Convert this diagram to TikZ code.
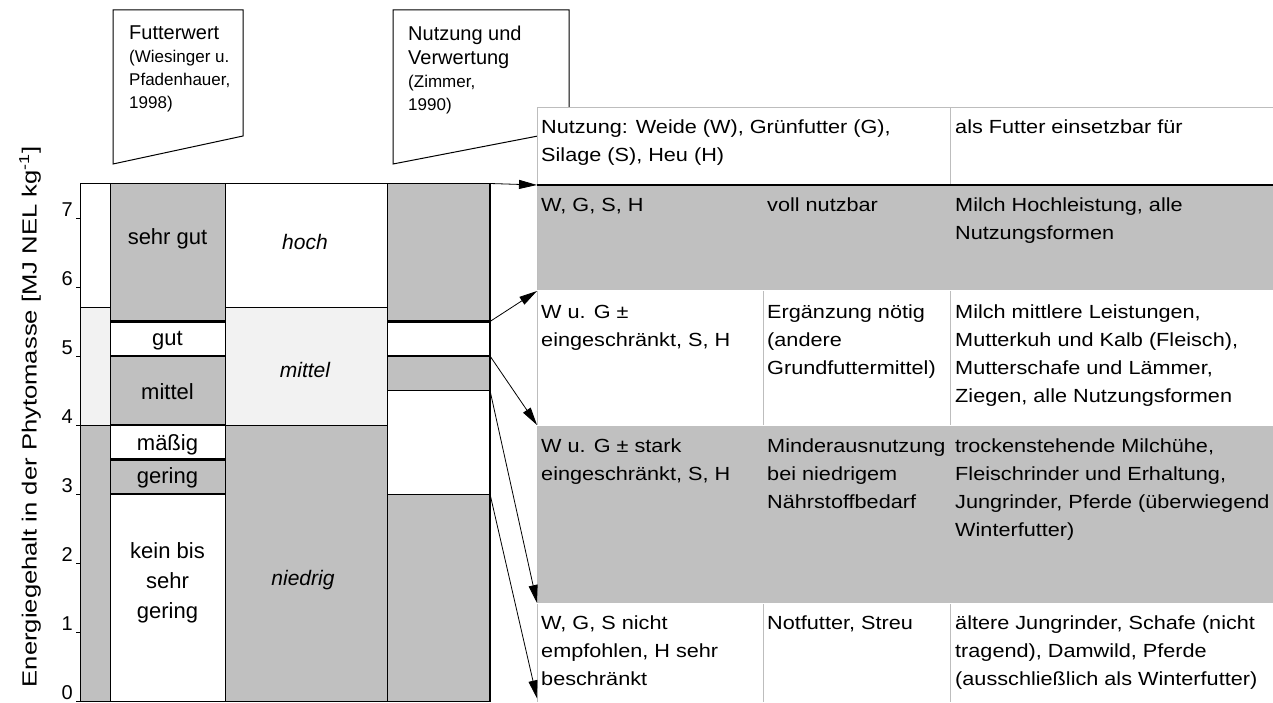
\documentclass[tikz,border=0pt]{standalone}
\usepackage{fontspec}
\setmainfont{Liberation Sans}
\newfontfamily\tabfont{Liberation Sans}[FakeStretch=1.14]
\newfontfamily\axisfont{Liberation Sans}[FakeStretch=1.25]
\usepackage{xcolor}
\usepackage{tikz}
\usetikzlibrary{positioning}
\usetikzlibrary{arrows.meta}

\definecolor{cgray}{HTML}{C0C0C0}
\definecolor{clight}{HTML}{F2F2F2}
\definecolor{cgrid}{HTML}{BDBDBD}

\begin{document}
\begin{tikzpicture}[
				x=1pt, y=1pt,
				cell/.style={draw=black, line width=1pt},
				sep/.style={line width=2.6pt},
				flabel/.style={font=\fontsize{22}{30}\selectfont, align=center, inner sep=0pt},
				klabel/.style={font=\fontsize{21}{30}\selectfont\itshape, inner sep=0pt},
				ticklabel/.style={font=\fontsize{20}{24}\selectfont, anchor=base east, inner sep=0pt},
				axislabel/.style={font=\axisfont\fontsize{20.5}{24}\selectfont, rotate=90, inner sep=0pt},
				callout/.style={draw=black, fill=white, line width=1pt},
				calltitle/.style={font=\fontsize{20}{24}\selectfont, align=left, anchor=north west, inner sep=0pt},
				callsub/.style={font=\fontsize{17}{23}\selectfont, align=left, anchor=north west, inner sep=0pt},
				rowbox/.style={rectangle, anchor=north west, inner sep=0pt, minimum width=736pt},
				celltext/.style={font=\tabfont\fontsize{19}{28}\selectfont, align=left, anchor=north west, inner sep=0pt},
				grid/.style={draw=cgrid, line width=1pt},
				arrow/.style={-{Triangle[length=18pt, width=9pt]}, line width=0.8pt}
			]

			\useasboundingbox (0,0) rectangle (1273,702);

			\draw[callout] (113,692) -- (243,692) -- (243,566) -- (113,538) -- cycle;
			\draw[callout] (393,692) -- (569,692) -- (569,572) -- (393,538) -- cycle;
			\node[calltitle] (fwert) at (129,676) {Futterwert};
			\node[callsub] (fwref) at ([yshift=-10pt]fwert.south west) {(Wiesinger u.\\Pfadenhauer,\\1998)};
			\node[calltitle] (nutz) at (408,676) {Nutzung und\\Verwertung};
			\node[callsub] (nutzref) at ([yshift=-6pt]nutz.south west) {(Zimmer,\\1990)};

			\node[axislabel] (ylab) at (30,285) {Energiegehalt in der Phytomasse [MJ NEL kg\textsuperscript{-1}]};

			\begin{scope}[shift={(0,1)}, y=69pt]
				\draw[cell, fill=white] (80,5.7) rectangle (110,7.5);
				\draw[cell, fill=clight] (80,4) rectangle (110,5.7);
				\draw[cell, fill=cgray] (80,0) rectangle (110,4);

				\draw[cell, fill=cgray] (110,5.5) rectangle (225,7.5);
				\draw[cell, fill=white] (110,5) rectangle (225,5.5);
				\draw[cell, fill=cgray] (110,4) rectangle (225,5);
				\draw[cell, fill=white] (110,3.5) rectangle (225,4);
				\draw[cell, fill=cgray] (110,3) rectangle (225,3.5);
				\draw[cell, fill=white] (110,0) rectangle (225,3);

				\draw[cell, fill=white] (225,5.7) rectangle (387,7.5);
				\draw[cell, fill=clight] (225,4) rectangle (387,5.7);
				\draw[cell, fill=cgray] (225,0) rectangle (387,4);

				\draw[cell, fill=cgray] (387,5.5) rectangle (490,7.5);
				\draw[cell, fill=white] (387,5) rectangle (490,5.5);
				\draw[cell, fill=cgray] (387,4.5) rectangle (490,5);
				\draw[cell, fill=white] (387,3) rectangle (490,4.5);
				\draw[cell, fill=cgray] (387,0) rectangle (490,3);

				\foreach \v in {3,3.5,4,5,5.5}
					\draw[sep] (110,\v) -- (225,\v);
				\foreach \v in {5,5.5}
					\draw[sep] (387,\v) -- (490,\v);
				\draw[sep] (490,0) -- (490,7.5);

				\foreach \v in {0,...,7} {
					\draw[line width=0.8pt] (76,\v) -- (80,\v);
					\node[ticklabel] (t\v) at ([yshift=1.5pt]73,\v) {\v};
				}

				\node[flabel] (sgut) at (167.5,6.7) {sehr gut};
				\node[flabel] (gut) at (167.5,5.22) {gut};
				\node[flabel] (mit) at (167.5,4.48) {mittel};
				\node[flabel] (maes) at (167.5,3.72) {mäßig};
				\node[flabel] (ger) at (167.5,3.23) {gering};
				\node[flabel] (kein) at (167.5,1.71) {kein bis\\sehr\\gering};
				\node[klabel] (hoch) at (305,6.65) {hoch};
				\node[klabel] (kmit) at (305,4.8) {mittel};
				\node[klabel] (nied) at (303,1.75) {niedrig};

				\coordinate (a1) at (490,7.5);
				\coordinate (a2) at (490,5.5);
				\coordinate (a3) at (490,5);
				\coordinate (a4) at (490,4.5);
				\coordinate (a5) at (490,3);
			\end{scope}

			\node[rowbox, fill=white, minimum height=77pt] (head) at (537,594) {};
			\node[rowbox, fill=cgray, minimum height=106pt] (row1) at (537,517) {};
			\node[rowbox, fill=white, minimum height=134pt] (row2) at (537,411) {};
			\node[rowbox, fill=cgray, minimum height=178pt] (row3) at (537,277) {};
			\node[rowbox, fill=white, minimum height=99pt] (row4) at (537,99) {};

			\draw[grid] (head.north west) -- (head.north east);
			\draw[grid] (head.north west) -- (row4.south west);
			\draw[grid] (950,594) -- (950,517);
			\draw[grid] (763,411) -- (763,277);
			\draw[grid] (950,411) -- (950,277);
			\draw[grid] (763,99) -- (763,0);
			\draw[grid] (950,99) -- (950,0);
			\draw[grid, draw=white] (row2.north west) -- (row2.north east);
			\draw[grid, draw=white] (row3.north west) -- (row3.north east);
			\draw[grid, draw=white] (row4.north west) -- (row4.north east);
			\draw[line width=2pt] (head.south west) -- (head.south east);

			\node[celltext] (h1) at ([xshift=4pt, yshift=-12pt]head.north west) {Nutzung: Weide (W), Grünfutter (G),\\Silage (S), Heu (H)};
			\node[celltext] (h3) at ([xshift=418pt, yshift=-12pt]head.north west) {als Futter einsetzbar für};

			\node[celltext] (r1a) at ([xshift=4pt, yshift=-13pt]row1.north west) {W, G, S, H};
			\node[celltext] (r1b) at ([xshift=230pt, yshift=-13pt]row1.north west) {voll nutzbar};
			\node[celltext] (r1c) at ([xshift=418pt, yshift=-13pt]row1.north west) {Milch Hochleistung, alle\\Nutzungsformen};

			\node[celltext] (r2a) at ([xshift=4pt, yshift=-14pt]row2.north west) {W u. G ±\\eingeschränkt, S, H};
			\node[celltext] (r2b) at ([xshift=230pt, yshift=-14pt]row2.north west) {Ergänzung nötig\\(andere\\Grundfuttermittel)};
			\node[celltext] (r2c) at ([xshift=418pt, yshift=-14pt]row2.north west) {Milch mittlere Leistungen,\\Mutterkuh und Kalb (Fleisch),\\Mutterschafe und Lämmer,\\Ziegen, alle Nutzungsformen};

			\node[celltext] (r3a) at ([xshift=4pt, yshift=-14pt]row3.north west) {W u. G ± stark\\eingeschränkt, S, H};
			\node[celltext] (r3b) at ([xshift=230pt, yshift=-14pt]row3.north west) {Minderausnutzung\\bei niedrigem\\Nährstoffbedarf};
			\node[celltext] (r3c) at ([xshift=418pt, yshift=-14pt]row3.north west) {trockenstehende Milchühe,\\Fleischrinder und Erhaltung,\\Jungrinder, Pferde (überwiegend\\Winterfutter)};

			\node[celltext] (r4a) at ([xshift=4pt, yshift=-13pt]row4.north west) {W, G, S nicht\\empfohlen, H sehr\\beschränkt};
			\node[celltext] (r4b) at ([xshift=230pt, yshift=-13pt]row4.north west) {Notfutter, Streu};
			\node[celltext] (r4c) at ([xshift=418pt, yshift=-13pt]row4.north west) {ältere Jungrinder, Schafe (nicht\\tragend), Damwild, Pferde\\(ausschließlich als Winterfutter)};

			\draw[arrow] (a1) -- (row1.north west);
			\draw[arrow] (a2) -- (row2.north west);
			\draw[arrow] (a3) -- (row3.north west);
			\draw[arrow] (a4) -- (row4.north west);
			\draw[arrow] (a5) -- ([yshift=4pt]row4.south west);

		\end{tikzpicture}
\end{document}
